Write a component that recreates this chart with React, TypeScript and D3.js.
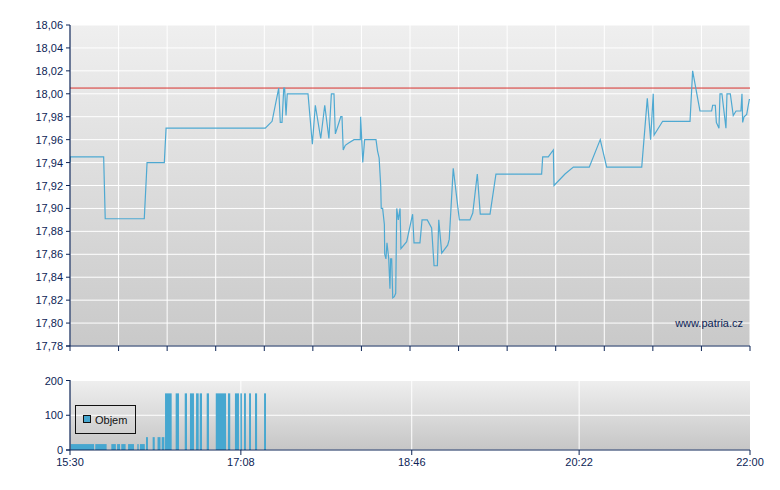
import React from "react";
import * as d3 from "d3";

// minutes after 15:30 and price
const priceTimes = [
  0, 0.2, 19.3, 20.2, 42.6, 44.2, 54.1, 55.1, 112.0, 115.9, 119.7, 120.6, 121.6, 122.6, 123.1, 123.9, 124.6,
  136.5, 139.0, 140.7, 143.8, 146.1, 148.5, 149.9, 151.4, 152.2, 155.3, 156.0, 156.7, 157.9, 159.8, 162.9,
  166.5, 166.7, 167.9, 169.0, 175.5, 176.4, 177.3, 178.2, 178.5, 179.3, 180.3, 180.5, 181.2, 181.8, 182.8,
  183.5, 183.9, 184.5, 185.1, 186.0, 186.8, 187.4, 188.3, 189.3, 189.8, 193.1, 196.5, 197.3, 200.7, 201.9,
  204.9, 207.4, 208.8, 210.7, 211.5, 213.2, 216.6, 217.5, 219.8, 223.3, 229.4, 231.0, 233.6, 235.3, 240.9,
  244.3, 270.5, 271.1, 274.3, 277.2, 277.6, 283.9, 288.7, 297.8, 304.1, 307.8, 327.9, 331.1, 333.0, 334.5,
  335.0, 339.9, 355.6, 357.1, 361.3, 368.0, 368.6, 370.1, 370.7, 372.2, 372.8, 373.9, 376.2, 376.8, 378.7,
  380.4, 382.0, 384.8, 385.4, 385.8, 386.6, 388.1, 389.6, 390,
];
const priceValues = [
  17.94, 17.945, 17.945, 17.891, 17.891, 17.94, 17.94, 17.97, 17.97, 17.976, 18.005, 17.975, 17.975, 18.005, 18.005, 17.981, 18.0,
  18.0, 17.956, 17.99, 17.961, 17.99, 17.961, 18.0, 18.0, 17.965, 17.98, 17.98, 17.951, 17.955, 17.957, 17.96,
  17.96, 17.98, 17.94, 17.96, 17.96, 17.95, 17.944, 17.92, 17.9, 17.9, 17.886, 17.86, 17.856, 17.87, 17.856,
  17.83, 17.856, 17.856, 17.822, 17.823, 17.826, 17.9, 17.89, 17.9, 17.865, 17.871, 17.895, 17.87, 17.87, 17.89,
  17.89, 17.883, 17.85, 17.85, 17.89, 17.861, 17.868, 17.873, 17.935, 17.89, 17.89, 17.896, 17.93, 17.895, 17.895,
  17.93, 17.93, 17.945, 17.945, 17.951, 17.92, 17.93, 17.936, 17.936, 17.96, 17.936, 17.936, 17.996, 17.96, 18.0,
  17.964, 17.976, 17.976, 18.02, 17.985, 17.985, 17.99, 17.99, 17.975, 17.97, 18.0, 18.0, 17.97, 18.0, 18.0,
  17.981, 17.985, 17.985, 18.0, 17.975, 17.98, 17.982, 17.995, 17.995,
];

const referencePrice = 18.005;

// volume bars: start minute, end minute, volume
const volStart = [0.4, 14.5, 23.7, 27.0, 29.4, 33.3, 38.6, 40.1, 43.6, 47.4, 50.2, 52.6, 54.5, 60.6, 65.8, 68.8, 72.3, 74.4, 78.4, 83.6, 90.6, 94.6, 97.7, 99.8, 102.7, 106.1, 111.3];
const volEnd = [13.8, 21.0, 26.3, 28.7, 31.9, 36.7, 39.4, 42.9, 44.7, 48.6, 51.9, 54.1, 58.3, 62.5, 67.1, 71.1, 73.8, 75.7, 79.7, 89.5, 91.9, 96.9, 98.6, 100.9, 103.8, 107.3, 112.4];
const volValues = [17, 17, 17, 17, 17, 17, 17, 17, 37, 37, 37, 37, 163, 163, 163, 163, 163, 163, 163, 163, 163, 163, 163, 163, 163, 163, 163];

const priceTicks = [17.78, 17.8, 17.82, 17.84, 17.86, 17.88, 17.9, 17.92, 17.94, 17.96, 17.98, 18.0, 18.02, 18.04, 18.06];
const volTicks = [0, 100, 200];
const timeLabels = ["15:30", "17:08", "18:46", "20:22", "22:00"];

const FONT = "'Liberation Sans', Arial, sans-serif";
const NAVY = "#0c2456";

const toMin = (s: string) => {
  const [h, m] = s.split(":").map(Number);
  return h * 60 + m - (15 * 60 + 30);
};

export default function App() {
  const x = d3.scaleLinear().domain([0, 390]).range([70, 750]);
  const yP = d3.scaleLinear().domain([17.78, 18.06]).range([346, 25]);
  const yV = d3.scaleLinear().domain([0, 200]).range([450, 380.5]);
  const pts = priceTimes.map((t, i) => [t, priceValues[i]] as [number, number]);
  const line = d3.line<[number, number]>().x((d) => x(d[0])).y((d) => yP(d[1]));
  const gridTimes = d3.range(0, 15).map((i) => (i * 390) / 14);
  const fmt = (v: number) => d3.format(".2f")(v).replace(".", ",");

  return (
    <svg width={780} height={490} style={{ position: "absolute", left: 0, top: 0 }} fontFamily={FONT}>
      <defs>
        <linearGradient id="gMain" x1="0" y1="0" x2="0" y2="1">
          <stop offset="0" stopColor="#efefef" />
          <stop offset="1" stopColor="#c9c9c9" />
        </linearGradient>
        <linearGradient id="gVol" x1="0" y1="0" x2="0" y2="1">
          <stop offset="0" stopColor="#efefef" />
          <stop offset="1" stopColor="#c6c6c6" />
        </linearGradient>
        <clipPath id="clipMain">
          <rect x={70} y={25} width={680} height={321} />
        </clipPath>
      </defs>
      <rect width={780} height={490} fill="#fff" />
      {/* main panel */}
      <rect x={70} y={25} width={680} height={321} fill="url(#gMain)" />
      {priceTicks.map((v) => (
        <line key={"hg" + v} x1={70} x2={750} y1={yP(v)} y2={yP(v)} stroke="#fff" strokeWidth={1} />
      ))}
      {gridTimes.map((t) => (
        <line key={"vg" + t} x1={x(t)} x2={x(t)} y1={25} y2={346} stroke="#fff" strokeWidth={1} />
      ))}
      <line x1={70} x2={750} y1={yP(referencePrice)} y2={yP(referencePrice)} stroke="#d8302c" strokeWidth={1} />
      <path d={line(pts) || ""} fill="none" stroke="#4ea9d2" strokeWidth={1.2} clipPath="url(#clipMain)" />
      <text x={743} y={327} textAnchor="end" fontSize={11} fill={NAVY}>www.patria.cz</text>
      {/* main axes */}
      <line x1={70} x2={70} y1={25} y2={346} stroke={NAVY} strokeWidth={1.2} />
      <line x1={66} x2={750} y1={346} y2={346} stroke={NAVY} strokeWidth={1.2} />
      {priceTicks.map((v) => (
        <g key={"yt" + v}>
          <line x1={66} x2={70} y1={yP(v)} y2={yP(v)} stroke={NAVY} />
          <text x={63} y={yP(v) + 4} textAnchor="end" fontSize={11} fill={NAVY}>{fmt(v)}</text>
        </g>
      ))}
      {gridTimes.map((t) => (
        <line key={"xt" + t} x1={x(t)} x2={x(t)} y1={346} y2={351} stroke={NAVY} />
      ))}

      {/* volume panel */}
      <rect x={70} y={380} width={680} height={70} fill="url(#gVol)" />
      {volTicks.map((v) => (
        <line key={"vhg" + v} x1={70} x2={750} y1={yV(v)} y2={yV(v)} stroke="#fff" strokeWidth={1} />
      ))}
      {timeLabels.slice(1, 4).map((s) => (
        <line key={"vvg" + s} x1={x(toMin(s))} x2={x(toMin(s))} y1={380} y2={450} stroke="#fff" strokeWidth={1} />
      ))}
      {volStart.map((s, i) => (
        <rect
          key={"vb" + i}
          x={x(s)}
          width={x(volEnd[i]) - x(s)}
          y={yV(volValues[i])}
          height={yV(0) - yV(volValues[i])}
          fill="#46a7d0"
        />
      ))}
      <rect x={75.5} y={405.5} width={60} height={28} fill="none" stroke="#111" strokeWidth={1} />
      <rect x={83.5} y={415.5} width={7} height={7} fill="#46a7d0" stroke="#111" strokeWidth={1} />
      <text x={95} y={424} fontSize={11} fill="#111">Objem</text>
      <line x1={70} x2={70} y1={380} y2={450} stroke={NAVY} strokeWidth={1.2} />
      <line x1={66} x2={750} y1={450} y2={450} stroke={NAVY} strokeWidth={1.2} />
      {volTicks.map((v) => (
        <g key={"vyt" + v}>
          <line x1={66} x2={70} y1={yV(v)} y2={yV(v)} stroke={NAVY} />
          <text x={63} y={yV(v) + 4} textAnchor="end" fontSize={11} fill={NAVY}>{v}</text>
        </g>
      ))}
      {timeLabels.map((s) => (
        <g key={"tl" + s}>
          <line x1={x(toMin(s))} x2={x(toMin(s))} y1={450} y2={455} stroke={NAVY} />
          <text x={x(toMin(s))} y={466} textAnchor="middle" fontSize={11} fill={NAVY}>{s}</text>
        </g>
      ))}
    </svg>
  );
}
